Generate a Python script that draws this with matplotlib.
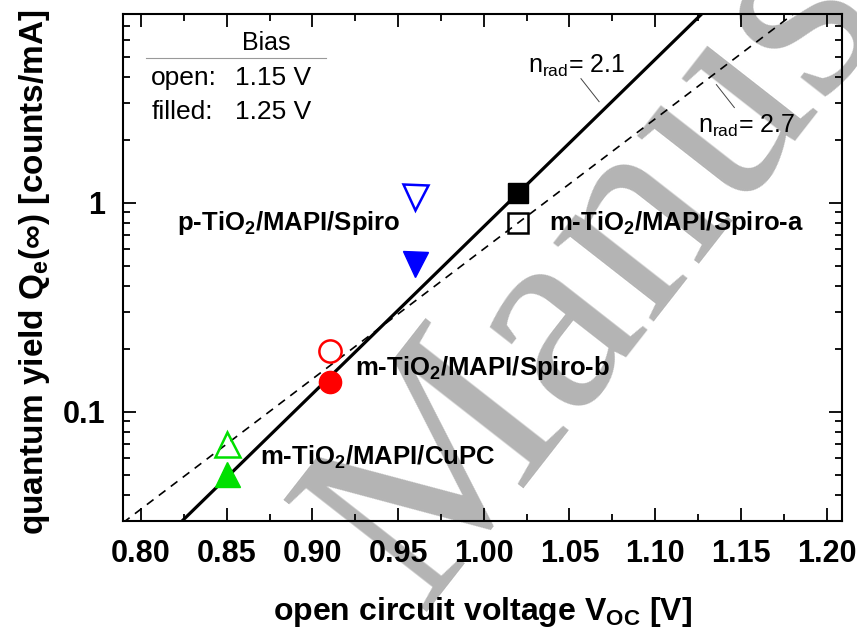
import numpy as np
import matplotlib

matplotlib.use("Agg")
import matplotlib.pyplot as plt  # noqa: E402
from matplotlib.ticker import MultipleLocator, LogLocator, FuncFormatter, NullFormatter  # noqa: E402

# measured points: Voc [V] and quantum yield Qe(inf) [counts/mA]
voc = [0.85, 0.91, 0.96, 1.02]
qe_open = [0.0698, 0.195, 1.06, 0.80]      # bias 1.15 V (open symbols)
qe_filled = [0.0502, 0.139, 0.508, 1.11]   # bias 1.25 V (filled symbols)
markers = ["^", "o", "v", "s"]
colors = ["#00e000", "#ff0000", "#0000ff", "#000000"]
sizes = [18, 16, 18, 15]

# radiative ideality fits, anchored at the m-TiO2/MAPI/Spiro-a device
n_rad = [2.1, 2.7]
fit_anchor_v = [1.02, 1.02]
fit_anchor_q = [1.11, 0.80]
fit_styles = ["-", "--"]
kT = 0.02585  # thermal voltage at 300 K

sample_labels = [
    r"m-TiO$_\mathbf{2}$/MAPI/CuPC",
    r"m-TiO$_\mathbf{2}$/MAPI/Spiro-b",
    r"p-TiO$_\mathbf{2}$/MAPI/Spiro",
    r"m-TiO$_\mathbf{2}$/MAPI/Spiro-a",
]
label_x = [0.8696, 0.925, 0.821, 1.038]
label_y = [0.0557, 0.150, 0.743, 0.743]

plt.rcParams["font.family"] = ["Liberation Sans", "DejaVu Sans"]
plt.rcParams["mathtext.fontset"] = "custom"
plt.rcParams["mathtext.rm"] = "Liberation Sans"
plt.rcParams["mathtext.bf"] = "Liberation Sans:bold"
plt.rcParams["mathtext.it"] = "Liberation Sans:italic"

fig = plt.figure(figsize=(8.57, 6.30), dpi=100, facecolor="white")
ax = fig.add_axes([0.1435, 0.173, 0.839, 0.805])
ax.set_facecolor("none")

# watermark behind everything
fig.text(0.489, 0.029, "Manuscript", rotation=52, rotation_mode="anchor",
         ha="left", va="baseline", fontsize=200, family="Liberation Serif",
         color="#b4b4b4", zorder=-1)

ax.set_yscale("log")
ax.set_xlim(0.7895, 1.209)
ax.set_ylim(0.030, 8.0)

# fit lines
v_line = np.array(ax.get_xlim())
for n, v0, q0, ls in zip(n_rad, fit_anchor_v, fit_anchor_q, fit_styles):
    q_line = q0 * np.exp((v_line - v0) / (n * kT))
    if ls == "-":
        ax.plot(v_line, q_line, color="black", lw=2.3, ls=ls, zorder=2)
    else:
        ax.plot(v_line, q_line, color="black", lw=1.2, ls=ls, dashes=(5, 4), zorder=2)

# data symbols
for v, qo, qf, m, c, s in zip(voc, qe_open, qe_filled, markers, colors, sizes):
    ax.plot([v], [qo], marker=m, ms=s, mfc="none", mec=c, mew=1.8, ls="none", zorder=3)
    ax.plot([v], [qf], marker=m, ms=s, mfc=c, mec=c, mew=1.0, ls="none", zorder=3)

for txt, x, y in zip(sample_labels, label_x, label_y):
    ax.text(x, y, txt, fontsize=18.5, fontweight="bold", ha="left", va="baseline")

# ideality annotations
ax.text(1.026, 4.2, r"n$_\mathrm{rad}$= 2.1", fontsize=18, ha="left", va="baseline")
ax.plot([1.0567, 1.0673], [3.92, 3.04], color="#444444", lw=0.7)
ax.text(1.125, 2.16, r"n$_\mathrm{rad}$= 2.7", fontsize=18, ha="left", va="baseline")
ax.plot([1.1357, 1.1462], [3.67, 2.85], color="#444444", lw=0.7)

# bias legend
ax.text(0.873, 5.83, "Bias", fontsize=18, ha="center", va="center")
ax.plot([0.803, 0.908], [4.94, 4.94], color="#999999", lw=0.8)
ax.text(0.806, 3.96, "open:", fontsize=19, ha="left", va="center")
ax.text(0.855, 3.96, "1.15 V", fontsize=19, ha="left", va="center")
ax.text(0.806, 2.72, "filled:", fontsize=19, ha="left", va="center")
ax.text(0.855, 2.72, "1.25 V", fontsize=19, ha="left", va="center")

# axes styling
ax.xaxis.set_major_locator(MultipleLocator(0.05))
ax.xaxis.set_minor_locator(MultipleLocator(0.025))
ax.xaxis.set_major_formatter(FuncFormatter(lambda v, p: f"{v:.2f}"))
ax.yaxis.set_major_locator(LogLocator(base=10))
ax.yaxis.set_minor_locator(LogLocator(base=10, subs=np.arange(2, 10)))
ax.yaxis.set_major_formatter(FuncFormatter(lambda v, p: f"{v:g}"))
ax.yaxis.set_minor_formatter(NullFormatter())

ax.tick_params(which="both", direction="in", top=True, right=True, width=1.3)
ax.tick_params(which="major", length=9.5, labelsize=22, pad=13)
ax.tick_params(which="minor", length=5)
for lab in ax.get_xticklabels() + ax.get_yticklabels():
    lab.set_fontweight("bold")
for sp in ax.spines.values():
    sp.set_linewidth(1.5)

ax.set_xlabel(r"open circuit voltage V$_\mathbf{OC}$ [V]", fontsize=23, fontweight="bold")
ax.set_ylabel(r"quantum yield Q$_\mathbf{e}$(∞) [counts/mA]", fontsize=24, fontweight="bold")
ax.xaxis.set_label_coords(0.5, -0.145)
ax.yaxis.set_label_coords(-0.099, 0.49)

fig.savefig("out.png", dpi=100, facecolor="white")
plt.close(fig)
